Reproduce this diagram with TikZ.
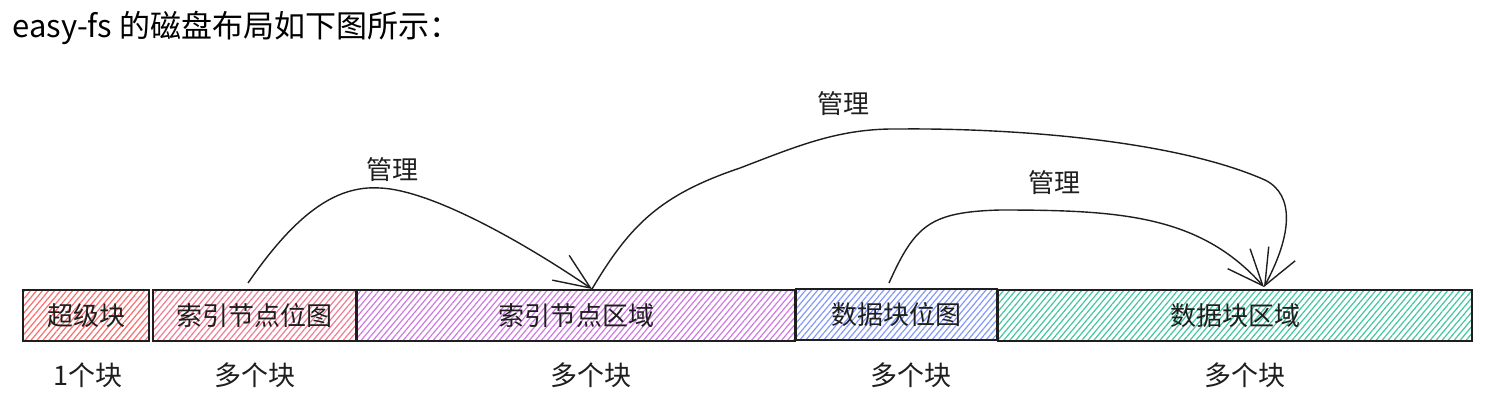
\documentclass[tikz,border=0pt]{standalone}
\usepackage{fontspec}
\newfontfamily\cjk{Noto Sans CJK SC}
\usetikzlibrary{arrows.meta,patterns.meta}

\definecolor{inkgray}{HTML}{1E1E1E}
\definecolor{hatchred}{HTML}{FA5252}
\definecolor{hatchpink}{HTML}{EE5A78}
\definecolor{hatchgrape}{HTML}{BE4BDB}
\definecolor{hatchindigo}{HTML}{4C6EF5}
\definecolor{hatchteal}{HTML}{12B886}

\tikzset{
  diskpart/.style={draw=inkgray, line width=0.9pt, minimum height=25.5pt,
    inner sep=0pt, font=\cjk\fontsize{13}{13}\selectfont, text=inkgray},
  hatch/.style={pattern={Lines[angle=50,distance=2.3pt,line width=0.6pt]},
    pattern color=#1},
  sizelabel/.style={font=\cjk\fontsize{13.5}{13.5}\selectfont, text=inkgray},
  managelabel/.style={font=\cjk\fontsize{13}{13}\selectfont, text=inkgray},
  manages/.style={draw=inkgray, line width=0.7pt,
    -{Straight Barb[length=18pt,width=15pt,line width=0.7pt]}}
}

\begin{document}
\begin{tikzpicture}[x=0.5pt,y=-0.5pt]

    \useasboundingbox (0,0) rectangle (1504,413);

    % title
    \node[anchor=west, inner sep=0pt, font=\cjk\fontsize{15.5}{15.5}\selectfont]
      (title) at (12,28) {easy-fs 的磁盘布局如下图所示：};

    % disk layout
    \node[diskpart, hatch=hatchred!85, minimum width=63pt]
      (super) at (86,315.5) {超级块};
    \node[diskpart, hatch=hatchpink!80, minimum width=101.5pt]
      (inodebmp) at (254.5,315.5) {索引节点位图};
    \node[diskpart, hatch=hatchgrape!75, minimum width=219pt]
      (inodearea) at (576,315.5) {索引节点区域};
    \node[diskpart, hatch=hatchindigo!70, minimum width=100.5pt]
      (databmp) at (896.5,314.5) {数据块位图};
    \node[diskpart, hatch=hatchteal!80, minimum width=237pt]
      (dataarea) at (1235,315.5) {数据块区域};

    % sizes
    \node[sizelabel] (supersize) at (88,375) {1个块};
    \node[sizelabel] (inodebmpsize) at (255,375) {多个块};
    \node[sizelabel] (inodeareasize) at (591,375) {多个块};
    \node[sizelabel] (databmpsize) at (911,375) {多个块};
    \node[sizelabel] (dataareasize) at (1245,375) {多个块};

    % arrow ends
    \coordinate (inodebmpout) at (248,283);
    \coordinate (inodeareain) at (592,289);
    \coordinate (databmpout) at (889,283);
    \coordinate (dataareain) at (1264,287);

    % inode bitmap -> inode area
    \draw[manages] (inodebmpout) .. controls (295,215) and (335,185) .. (380,188)
      .. controls (430,190) and (520,240) .. (inodeareain);
    \node[managelabel] (manage1) at (392,170) {管理};

    % inode area -> data area
    \draw[manages] (inodeareain) .. controls (630,225) and (660,195) .. (740,168)
      .. controls (800,145) and (840,128) .. (900,129)
      .. controls (1000,128) and (1170,138) .. (1265,180)
      .. controls (1295,195) and (1292,235) .. (dataareain);
    \node[managelabel] (manage2) at (843,104) {管理};

    % data bitmap -> data area
    \draw[manages] (databmpout) .. controls (915,225) and (930,212) .. (1000,210)
      .. controls (1120,210) and (1200,215) .. (dataareain);
    \node[managelabel] (manage3) at (1054,183) {管理};

\end{tikzpicture}
\end{document}
